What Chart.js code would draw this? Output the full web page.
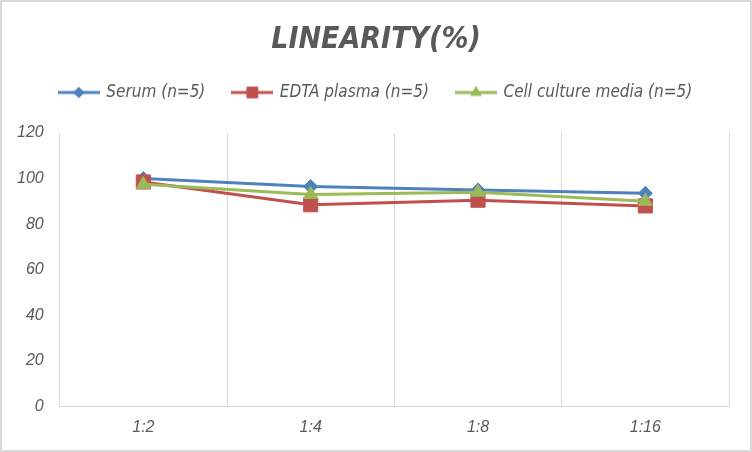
<!DOCTYPE html>
<html lang="en">
<head>
    <meta charset="UTF-8">
    <title>Linearity</title>
    <style>
      body { margin: 0; background: #fff; }
      .wrap { width: 752px; height: 452px; }
    </style>
</head>
<body>
    <div class="wrap">
        <canvas id="myChart" width="752" height="452"></canvas>
    </div>

    <script src="https://cdn.jsdelivr.net/npm/chart.js"></script>

    <script>
      // values
      const dilutions = ['1:2', '1:4', '1:8', '1:16'];
      const serum = [100, 96.5, 95, 93.5];
      const edtaPlasma = [98.5, 88.5, 90.5, 88];
      const cellMedia = [97.5, 93, 94, 90];
      const yTicks = [0, 20, 40, 60, 80, 100, 120];

      const seriesNames = ['Serum (n=5)', 'EDTA plasma (n=5)', 'Cell culture media (n=5)'];
      const seriesColors = ['#4F81BD', '#C0504D', '#9BBB59'];
      const seriesMarkers = ['rectRot', 'rect', 'triangle'];
      const markerSizes = [7, 10, 8];

      const textColor = '#595959';
      const gridColor = '#d9d9d9';
      const narrowFont = "'Liberation Sans Narrow', 'DejaVu Sans Condensed', 'Liberation Sans', sans-serif";
      const plainFont = "'Liberation Sans', Arial, sans-serif";

      // little legend swatch: line with marker in the middle
      const makeSwatch = (color, marker, r) => {
        const c = document.createElement('canvas');
        c.width = 42; c.height = 18;
        const g = c.getContext('2d');
        g.strokeStyle = color;
        g.lineWidth = 3;
        g.beginPath(); g.moveTo(0, 9); g.lineTo(42, 9); g.stroke();
        g.fillStyle = color;
        Chart.helpers.drawPoint(g, { pointStyle: marker, radius: r * 0.8, borderWidth: 0 }, 21, 9);
        g.fill();
        return c;
      };

      const chartBorder = {
        id: 'chartBorder',
        beforeInit(chart) {
          // leave some room under the legend
          const fit = chart.legend.fit;
          chart.legend.fit = function () {
            fit.call(this);
            this.height += 22;
          };
        },
        afterLayout(chart) {
          // centre title and legend on the whole picture, not the padded area
          [chart.titleBlock, chart.legend].forEach(box => {
            if (!box) return;
            box.left = 0;
            box.right = chart.width;
            box.width = chart.width;
          });
        },
        beforeDraw(chart) {
          const ctx = chart.ctx;
          ctx.save();
          ctx.fillStyle = '#fff';
          ctx.fillRect(0, 0, chart.width, chart.height);
          ctx.strokeStyle = gridColor;
          ctx.lineWidth = 2;
          ctx.strokeRect(1, 1, chart.width - 2, chart.height - 2);
          ctx.restore();
        }
      };

      const allSeries = [serum, edtaPlasma, cellMedia];
      const datasets = allSeries.map((vals, i) => ({
        label: seriesNames[i],
        data: vals,
        borderColor: seriesColors[i],
        backgroundColor: seriesColors[i],
        borderWidth: 3,
        pointStyle: seriesMarkers[i],
        pointRadius: markerSizes[i],
        pointHoverRadius: markerSizes[i],
        pointBorderWidth: 1,
        order: 2 - i,
        tension: 0
      }));

      const ctx = document.getElementById('myChart');

      new Chart(ctx, {
        type: 'line',
        data: { labels: dilutions, datasets: datasets },
        plugins: [chartBorder],
        options: {
          responsive: false,
          animation: false,
          layout: { padding: { left: 1, right: 23, top: 0, bottom: 2.5 } },
          plugins: {
            title: {
              display: true,
              text: 'LINEARITY(%)',
              color: textColor,
              font: { family: narrowFont, size: 30, weight: 'bold', style: 'italic', lineHeight: 1 },
              padding: { top: 25, bottom: 1 }
            },
            legend: {
              display: true,
              labels: {
                color: textColor,
                font: { family: narrowFont, size: 17, style: 'italic' },
                usePointStyle: true,
                pointStyleWidth: 38,
                padding: 28,
                generateLabels: (chart) => seriesNames.map((name, i) => ({
                  text: name,
                  fillStyle: seriesColors[i],
                  strokeStyle: seriesColors[i],
                  fontColor: textColor,
                  lineWidth: 0,
                  pointStyle: makeSwatch(seriesColors[i], seriesMarkers[i], markerSizes[i]),
                  datasetIndex: i
                }))
              }
            },
            tooltip: { enabled: false }
          },
          scales: {
            x: {
              offset: true,
              grid: { offset: true, color: gridColor, drawTicks: false },
              border: { color: gridColor },
              ticks: {
                color: textColor,
                padding: 12,
                font: { family: plainFont, size: 16, style: 'italic' }
              }
            },
            y: {
              min: 0,
              max: 120,
              afterBuildTicks: (axis) => { axis.ticks = yTicks.map(v => ({ value: v })); },
              grid: { display: false, drawTicks: false },
              border: { display: false },
              ticks: {
                color: textColor,
                padding: 16,
                font: { family: plainFont, size: 16, style: 'italic' }
              }
            }
          }
        }
      });
    </script>
</body>
</html>
